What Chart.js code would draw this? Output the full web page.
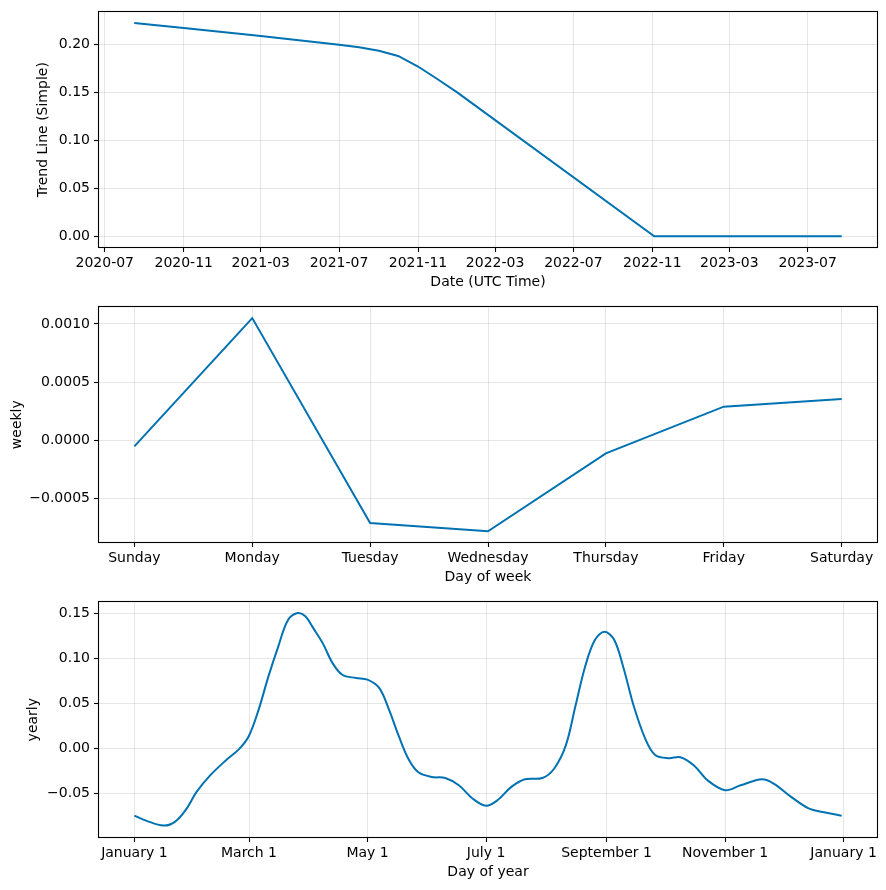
<!DOCTYPE html>
<html>
<head>
<meta charset="utf-8">
<script src="https://cdn.jsdelivr.net/npm/chart.js@4.4.0/dist/chart.umd.min.js"></script>
<style>
  html, body { margin: 0; padding: 0; background: #fff; }
  #wrap { position: relative; width: 886px; height: 890px; }
  canvas { position: absolute; left: 0; }
</style>
</head>
<body>
<div id="wrap">
  <canvas id="trend" width="886" height="295" style="top:0px"></canvas>
  <canvas id="weekly" width="886" height="295" style="top:295px"></canvas>
  <canvas id="yearly" width="886" height="300" style="top:590px"></canvas>
</div>
<script>
// trend component
const trendDates = ['2020-08-16', '2020-11-01', '2021-03-01', '2021-07-01', '2021-08-01', '2021-09-01',
  '2021-10-01', '2021-11-01', '2021-12-01', '2022-01-01', '2022-11-04', '2023-08-23'];
const trendValues = [0.2223, 0.2171, 0.2089, 0.1996, 0.1970, 0.1935, 0.1880, 0.1770, 0.1640, 0.1500, 0.0, 0.0];
const trendTickLabels = ['2020-07', '2020-11', '2021-03', '2021-07', '2021-11', '2022-03',
  '2022-07', '2022-11', '2023-03', '2023-07'];
const trendYTicks = [0.0, 0.05, 0.10, 0.15, 0.20];

// weekly component
const weekDays = ['Sunday', 'Monday', 'Tuesday', 'Wednesday', 'Thursday', 'Friday', 'Saturday'];
const weeklyValues = [-0.000054, 0.001051, -0.000714, -0.000786, -0.000114, 0.000288, 0.000354];
const weeklyYTicks = [-0.0005, 0.0, 0.0005, 0.0010];

// yearly component (day of year -> value)
const yearDays = [0, 6, 15, 21, 27, 32, 39, 47, 54, 59, 64, 69, 74, 79, 84, 88, 92, 97, 102, 107,
  114, 120, 126, 131, 136, 141, 146, 153, 160, 167, 174, 181, 187, 194, 201, 210, 216, 222, 227,
  232, 237, 242, 247, 252, 257, 263, 268, 275, 281, 288, 295, 304, 312, 323, 329, 338, 347, 355, 364];
const yearlyValues = [-0.0744, -0.0799, -0.0854, -0.0810, -0.0663, -0.0480, -0.0297, -0.0132, -0.0003,
  0.0143, 0.0436, 0.0802, 0.1130, 0.1425, 0.1505, 0.1470, 0.1340, 0.1168, 0.0949, 0.0820,
  0.0784, 0.0766, 0.0674, 0.0436, 0.0143, -0.0113, -0.0260, -0.0315, -0.0326, -0.0407, -0.0553,
  -0.0634, -0.0571, -0.0425, -0.0340, -0.0326, -0.0223, 0.0033, 0.0473, 0.0912, 0.1205, 0.1297,
  0.1205, 0.0876, 0.0473, 0.0106, -0.0070, -0.0106, -0.0095, -0.0187, -0.0352, -0.0462, -0.0407,
  -0.0340, -0.0388, -0.0535, -0.0663, -0.0707, -0.0744];
const yearTickDays = [0, 59, 120, 181, 243, 304, 365];
const yearTickLabels = ['January 1', 'March 1', 'May 1', 'July 1', 'September 1', 'November 1', 'January 1'];
const yearlyYTicks = [-0.05, 0.0, 0.05, 0.10, 0.15];

const LINE = '#0072B2';
const FONT = { family: '"DejaVu Sans", sans-serif', size: 14 };

Chart.defaults.color = '#000';
Chart.defaults.font.family = FONT.family;
Chart.defaults.font.size = FONT.size;

function toTime(s) {
  const p = s.split('-').map(Number);
  return Date.UTC(p[0], p[1] - 1, p[2] || 1);
}

function fmt(v, digits) {
  return v.toFixed(digits).replace('-', '\u2212');
}

const frame = {
  id: 'frame',
  afterDraw(chart) {
    const { ctx, chartArea: a } = chart;
    ctx.save();
    ctx.strokeStyle = '#000';
    ctx.lineWidth = 1.1;
    ctx.strokeRect(Math.round(a.left) - 0.5, Math.round(a.top) - 0.5,
      Math.round(a.right - a.left) + 1, Math.round(a.bottom - a.top) + 1);
    ctx.restore();
  }
};

function grid() {
  return {
    color: 'rgba(128,128,128,0.2)',
    lineWidth: 1,
    tickColor: '#000',
    tickLength: 5,
    tickWidth: 1.1
  };
}

function makeChart(id, opts) {
  const ctx = document.getElementById(id).getContext('2d');
  return new Chart(ctx, {
    type: 'line',
    data: {
      datasets: [{
        data: opts.points,
        borderColor: LINE,
        borderWidth: 2,
        pointRadius: 0,
        fill: false,
        tension: opts.tension || 0
      }]
    },
    options: {
      responsive: false,
      animation: false,
      events: [],
      layout: { padding: { top: 10, right: 9, left: 0, bottom: opts.bottomPad || 0 } },
      plugins: { legend: { display: false }, tooltip: { enabled: false } },
      scales: {
        x: {
          type: 'linear',
          min: opts.xMin,
          max: opts.xMax,
          grid: grid(),
          border: { display: false },
          afterBuildTicks: (s) => { s.ticks = opts.xTicks.map(v => ({ value: v })); },
          afterFit: (s) => { s.height = 48; },
          ticks: {
            padding: 3,
            maxRotation: 0,
            autoSkip: false,
            callback: (v, i) => opts.xLabels[i]
          },
          title: { display: true, text: opts.xTitle, padding: { top: 0, bottom: 4 } }
        },
        y: {
          min: opts.yMin,
          max: opts.yMax,
          grid: grid(),
          border: { display: false },
          afterBuildTicks: (s) => { s.ticks = opts.yTicks.map(v => ({ value: v })); },
          afterFit: (s) => { s.width = 99; },
          ticks: {
            padding: 4,
            autoSkip: false,
            callback: (v) => fmt(v, opts.yDigits)
          },
          title: { display: true, text: opts.yTitle, padding: { top: opts.yTitlePad, bottom: 0 } }
        }
      }
    },
    plugins: [frame]
  });
}

makeChart('trend', {
  points: trendDates.map((d, i) => ({ x: toTime(d), y: trendValues[i] })),
  xMin: Date.UTC(2020, 5, 22),
  xMax: Date.UTC(2023, 9, 17),
  xTicks: trendTickLabels.map(toTime),
  xLabels: trendTickLabels,
  xTitle: 'Date (UTC Time)',
  yMin: -0.0111,
  yMax: 0.2334,
  yTicks: trendYTicks,
  yDigits: 2,
  yTitle: 'Trend Line (Simple)',
  yTitlePad: 35
});

makeChart('weekly', {
  points: weekDays.map((d, i) => ({ x: i, y: weeklyValues[i] })),
  xMin: -0.3,
  xMax: 6.3,
  xTicks: weekDays.map((d, i) => i),
  xLabels: weekDays,
  xTitle: 'Day of week',
  yMin: -0.000878,
  yMax: 0.001143,
  yTicks: weeklyYTicks,
  yDigits: 4,
  yTitle: 'weekly',
  yTitlePad: 9
});

makeChart('yearly', {
  points: yearDays.map((d, i) => ({ x: d, y: yearlyValues[i] })),
  tension: 0.35,
  xMin: -18.2,
  xMax: 382.2,
  xTicks: yearTickDays,
  xLabels: yearTickLabels,
  xTitle: 'Day of year',
  yMin: -0.0981,
  yMax: 0.1623,
  yTicks: yearlyYTicks,
  yDigits: 2,
  yTitle: 'yearly',
  yTitlePad: 25,
  bottomPad: 5
});
</script>
</body>
</html>
